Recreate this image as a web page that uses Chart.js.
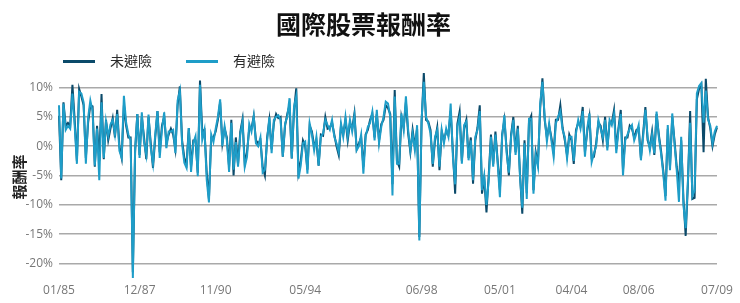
<!DOCTYPE html>
<html lang="zh-Hant">
<head>
<meta charset="UTF-8">
<title>國際股票報酬率</title>
<style>
    body {
        margin: 0;
        background: #fff;
    }

    .wrap {
        position: relative;
        width: 740px;
        height: 303px;
    }

    .legendItem {
        position: absolute;
        top: 51px;
        height: 18px;
        line-height: 18px;
        font-family: "Noto Sans CJK TC", "Noto Sans", sans-serif;
        font-size: 14px;
        color: #2b2b2b;
        white-space: nowrap;
    }

    .legendItem i {
        display: inline-block;
        width: 32px;
        height: 3px;
        margin-right: 15px;
        vertical-align: middle;
        position: relative;
        top: -1px;
    }
</style>
</head>

<body>
<div class="wrap">
    <canvas id="returns" width="740" height="303"></canvas>
    <div class="legendItem" style="left:63px"><i style="background:#0b4a6a"></i>未避險</div>
    <div class="legendItem" style="left:186px"><i style="background:#1e9dc8"></i>有避險</div>
</div>

<script src="https://cdn.jsdelivr.net/npm/chart.js"></script>
<script>
    // monthly returns (%), 01/85 .. 07/09, one row per year
    const unhedged = [
        5.2, -5.8, 7.5, 3.5, 4.0, 3.5, 10.5, 4.5, -2.5, 9.8, 8.5, 7.0,
        -2.0, 4.0, 7.0, 6.8, -3.5, 3.5, -2.5, 8.9, -2.2, 4.5, 1.0, 3.0,
        4.8, 1.5, 6.2, 0.0, -2.0, 7.0, 3.5, 1.5, 1.5, -21.5, -1.0, 5.5,
        -1.5, 5.0, 1.5, -2.2, 5.0, 0.5, -3.7, 1.5, 6.0, -1.0, 3.5, 5.0,
        0.5, 2.0, 3.0, 2.0, -0.5, 7.0, 10.2, 1.0, -2.0, -3.0, 3.1, -3.5,
        1.0, 1.0, -4.5, 11.2, 2.5, 2.8, -4.5, -9.0, 1.5, 1.5, 2.5, 4.5,
        7.5, 0.5, 3.0, 1.5, -3.5, 4.5, -5.0, 1.5, -3.0, 2.5, 4.6, -3.0,
        -1.0, 3.0, 3.0, 5.1, 1.0, 0.5, 1.0, -3.5, -5.0, 1.5, 4.5, -0.5,
        4.0, 5.5, 4.8, 5.0, -1.8, 3.5, 5.5, 7.0, -2.1, 6.0, 9.9, -4.5,
        -2.5, 1.0, 0.0, -4.0, 3.5, 2.5, 0.0, 1.0, -3.3, 2.0, 1.8, 5.0,
        3.0, 3.2, 4.0, 2.0, 0.0, -1.5, 3.5, 2.0, 4.5, 1.0, 4.0, 3.0,
        5.6, -0.5, 0.5, 1.5, -3.5, 2.0, 2.8, 4.5, 5.5, 1.5, 5.5, 1.0,
        3.8, 4.5, 7.0, 6.5, 5.5, -6.5, 9.6, -2.5, -3.5, 5.0, 3.2, 7.5,
        2.2, -1.0, 2.8, 0.0, 3.0, -15.5, 4.0, 12.5, 4.5, 4.2, 2.8, -3.5,
        1.0, 3.2, -4.1, 2.5, 1.0, 2.5, 2.0, 6.0, -1.0, -8.1, 3.8, 5.9,
        -2.5, 3.0, 4.5, -2.0, 1.5, -6.4, 1.0, 3.2, 7.0, -8.1, -5.5, -11.3,
        -5.0, 2.0, -3.0, 2.5, -2.5, -7.5, 2.0, 4.5, -0.5, -5.0, 2.0, 5.0,
        -1.0, 3.5, -5.0, -11.5, 1.0, -8.0, 4.2, 5.2, -7.5, -1.0, -3.0, 6.5,
        11.6, 4.5, 1.5, 3.5, 1.5, -1.0, 4.5, 4.5, 7.0, 3.2, 1.0, -1.5,
        2.0, 1.0, -3.0, 2.8, 4.0, 3.5, 6.7, -1.0, 2.5, 5.0, -2.0, -1.8,
        0.5, 4.0, 3.5, 1.0, 5.0, -0.2, 4.0, 4.0, 6.2, -0.5, 3.2, 6.2,
        -4.0, 1.5, 1.5, 3.5, 3.0, 1.5, 2.8, 3.0, -2.0, 2.2, 6.7, 1.0,
        -0.2, 2.5, -1.5, 5.5, 2.0, -0.8, -4.2, -8.5, 3.0, -3.5, 5.0, 1.0,
        -3.5, -6.5, 1.0, -9.0, -15.3, -6.5, 6.0, -9.0, -8.8, 8.0, 9.8, 10.5,
        -1.0, 11.5, 5.0, 3.0, 0.0, 2.0, 3.2
    ];

    const hedged = [
        7.0, -5.5, 7.3, 2.8, 3.5, 3.0, 9.0, 3.5, -3.0, 9.3, 9.0, 7.5,
        -3.0, 4.8, 7.8, 6.0, -3.3, 3.0, -5.8, 7.5, -2.0, 4.2, 1.7, 3.7,
        4.5, 2.0, 5.5, -0.8, -2.0, 8.6, 4.0, 2.0, 1.0, -22.5, -0.5, 5.5,
        -2.0, 5.8, 0.6, -1.5, 5.4, -0.3, -3.0, 2.0, 6.0, -2.0, 2.8, 5.8,
        -0.3, 2.5, 2.5, 2.8, -1.2, 7.8, 9.5, 0.4, -2.8, -3.7, 3.1, -4.4,
        0.5, 1.7, -5.1, 10.5, 1.1, 2.8, -5.7, -9.6, 2.0, 0.7, 3.0, 5.0,
        8.0, 0.0, 3.4, 1.0, -4.4, 4.0, -4.0, 0.7, -3.5, 2.0, 4.2, -3.5,
        -1.8, 3.8, 2.5, 5.1, 0.5, 0.0, 1.5, -4.5, -4.0, 1.0, 5.0, -1.2,
        4.5, 5.0, 5.3, 4.5, -1.8, 3.9, 5.0, 8.2, -2.1, 6.7, 8.5, -5.5,
        -3.3, 0.5, 0.8, -4.7, 3.9, 2.0, -0.7, 1.6, -3.3, 1.6, 2.2, 4.5,
        3.6, 2.8, 4.5, 1.6, 0.5, -1.0, 3.9, 1.6, 5.0, 1.6, 4.5, 2.5,
        5.2, -0.7, 0.0, 2.0, -4.7, 1.6, 3.3, 4.0, 5.9, 1.0, 6.2, 0.5,
        3.3, 5.0, 7.6, 7.3, 5.0, -8.4, 8.5, -3.0, -3.0, 5.6, 2.8, 8.5,
        2.8, -0.7, 2.2, -0.7, 3.6, -16.1, 4.4, 11.0, 5.0, 3.9, 2.2, -3.0,
        1.6, 2.8, -3.5, 2.8, 0.5, 3.0, 1.6, 7.3, -1.8, -6.5, 3.3, 5.0,
        -3.0, 3.6, 4.2, -2.4, 1.0, -5.8, 1.6, 2.8, 6.0, -7.5, -5.0, -10.0,
        -5.8, 1.6, -3.5, 2.0, -2.9, -8.7, 1.6, 5.3, -1.2, -4.5, 1.6, 4.5,
        -1.5, 3.0, -5.3, -10.5, 0.5, -9.0, 4.7, 4.7, -8.1, -1.5, -3.5, 7.3,
        11.0, 5.0, 0.8, 3.9, 1.0, -1.8, 3.9, 5.0, 6.0, 2.8, 1.6, -2.1,
        1.6, 1.6, -2.5, 2.2, 4.5, 3.0, 6.0, -1.8, 3.0, 5.6, -2.7, -1.2,
        0.0, 4.5, 3.0, 1.5, 4.5, -0.7, 4.5, 3.6, 5.5, -1.2, 2.8, 5.5,
        -5.0, 1.0, 2.0, 3.0, 3.6, 1.0, 2.2, 3.6, -2.4, 1.6, 6.2, 1.6,
        -0.7, 2.0, -1.2, 5.9, 1.6, -1.2, -4.7, -9.3, 3.6, -4.1, 5.6, 0.5,
        -4.1, -9.5, 1.6, -10.0, -14.0, -6.0, 4.0, -8.5, -7.5, 9.0, 10.3, 10.8,
        4.0, 9.5, 4.5, 3.5, 0.5, 2.5, 3.5
    ];

    // x-axis labels shown, and the data index each one sits at
    const tickLabels = ['01/85', '12/87', '11/90', '05/94', '06/98', '05/01', '04/04', '08/06', '07/09'];
    const tickIndex = [0, 36, 70, 110, 162, 197, 229, 259, 294];
    const yTicks = [10, 5, 0, -5, -10, -15, -20];

    // one category per month
    const months = [];
    for (let i = 0; i < hedged.length; i++) {
        const mm = String(i % 12 + 1).padStart(2, '0');
        const yy = String((85 + Math.floor(i / 12)) % 100).padStart(2, '0');
        months.push(mm + '/' + yy);
    }

    const cjk = '"Noto Sans CJK TC", "Noto Sans", sans-serif';
    const tickFont = { family: '"Open Sans", "Noto Sans", sans-serif', size: 12 };

    new Chart(document.getElementById('returns'), {
        type: 'line',
        data: {
            labels: months,
            datasets: [{
                label: '未避險',
                data: unhedged,
                borderColor: '#0b4a6a',
                backgroundColor: '#0b4a6a',
                borderWidth: 2,
                pointRadius: 0,
                tension: 0,
                order: 1
            }, {
                label: '有避險',
                data: hedged,
                borderColor: '#1e9dc8',
                backgroundColor: '#1e9dc8',
                borderWidth: 2,
                pointRadius: 0,
                tension: 0,
                order: 0
            }]
        },
        options: {
            responsive: false,
            devicePixelRatio: 1,
            animation: false,
            layout: { padding: { left: 10, right: 23, top: 0, bottom: 4 } },
            scales: {
                x: {
                    offset: false,
                    grid: { display: false, drawTicks: false },
                    border: { display: false },
                    afterBuildTicks: (s) => { s.ticks = tickIndex.map(v => ({ value: v })); },
                    afterFit: (s) => { s.height = 18; },
                    ticks: {
                        autoSkip: false,
                        maxRotation: 0,
                        padding: 2,
                        color: '#777',
                        font: tickFont,
                        callback: (v) => tickLabels[tickIndex.indexOf(v)]
                    }
                },
                y: {
                    min: -23,
                    max: 12.5,
                    afterBuildTicks: (s) => { s.ticks = yTicks.map(v => ({ value: v })); },
                    afterFit: (s) => { s.width = 49; },
                    grid: { color: '#a9a9a9', lineWidth: 1.5, drawTicks: false },
                    border: { display: false },
                    ticks: {
                        padding: 6,
                        color: '#777',
                        font: tickFont,
                        callback: (v) => v + '%'
                    },
                    title: {
                        display: true,
                        text: '報酬率',
                        color: '#222',
                        padding: 0,
                        font: { family: cjk, size: 15, weight: 'bold' }
                    }
                }
            },
            plugins: {
                legend: { display: false },
                tooltip: { enabled: false },
                title: {
                    display: true,
                    text: '國際股票報酬率',
                    color: '#111',
                    padding: { top: 9, bottom: 34 },
                    font: { family: cjk, size: 25, weight: 'bold' }
                }
            }
        }
    });
</script>
</body>
</html>
